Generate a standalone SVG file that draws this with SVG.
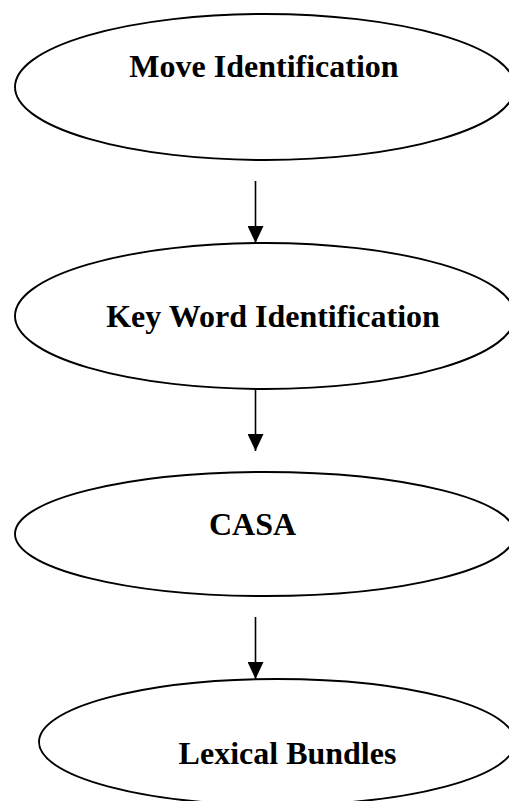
<svg xmlns="http://www.w3.org/2000/svg" width="509" height="801" viewBox="0 0 509 801">
  <defs>
    <marker id="arrow" markerUnits="userSpaceOnUse" markerWidth="17" markerHeight="16" refX="17" refY="8" orient="auto">
      <path d="M0,0 L17,8 L0,16 Z" fill="#000000"/>
    </marker>
  </defs>
  <rect x="0" y="0" width="509" height="801" fill="#ffffff"/>

  <g id="nodes" fill="#ffffff" stroke="#000000" stroke-width="1.9">
    <g id="node-move">
      <ellipse cx="265" cy="87" rx="250" ry="73"/>
      <text x="264" y="77" font-family="Liberation Serif, Times New Roman, serif" font-weight="bold" font-size="32" fill="#000000" stroke="none" text-anchor="middle">Move Identification</text>
    </g>
    <g id="node-keyword">
      <ellipse cx="265" cy="316" rx="250" ry="73"/>
      <text x="273" y="327" font-family="Liberation Serif, Times New Roman, serif" font-weight="bold" font-size="32" fill="#000000" stroke="none" text-anchor="middle">Key Word Identification</text>
    </g>
    <g id="node-casa">
      <ellipse cx="265" cy="534" rx="250" ry="62"/>
      <text x="252.5" y="535" font-family="Liberation Serif, Times New Roman, serif" font-weight="bold" font-size="32" fill="#000000" stroke="none" text-anchor="middle">CASA</text>
    </g>
    <g id="node-lexical">
      <ellipse cx="277" cy="742" rx="238" ry="63"/>
      <text x="287.5" y="764" font-family="Liberation Serif, Times New Roman, serif" font-weight="bold" font-size="32" fill="#000000" stroke="none" text-anchor="middle">Lexical Bundles</text>
    </g>
  </g>

  <g id="connectors" stroke="#000000" stroke-width="1.6" fill="none">
    <line x1="255.5" y1="181" x2="255.5" y2="243" marker-end="url(#arrow)"/>
    <line x1="255.5" y1="389" x2="255.5" y2="451" marker-end="url(#arrow)"/>
    <line x1="255.5" y1="617" x2="255.5" y2="679" marker-end="url(#arrow)"/>
  </g>
</svg>
